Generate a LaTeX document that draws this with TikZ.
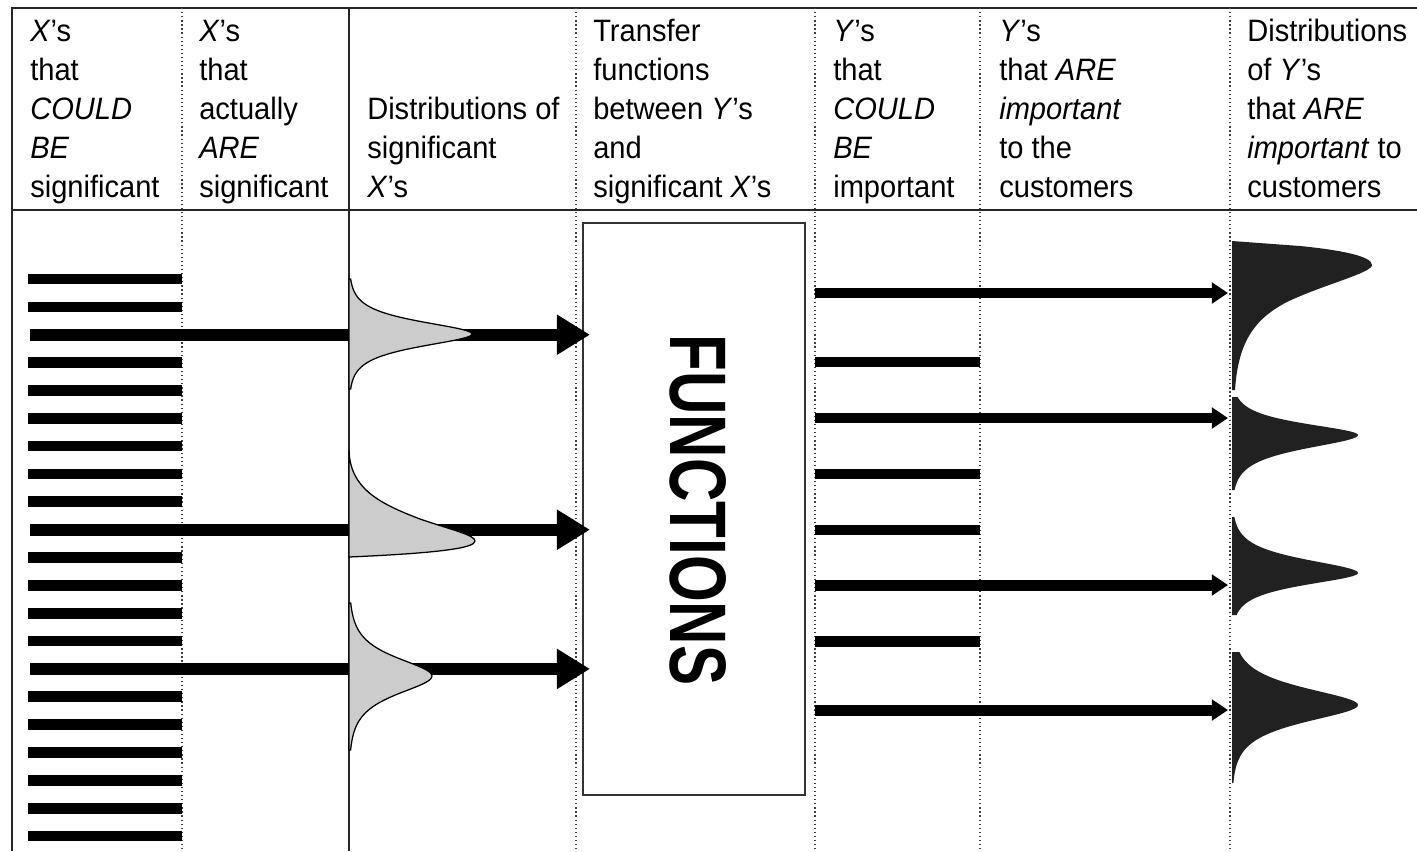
\documentclass[tikz,border=0pt]{standalone}
\usepackage{fontspec}
\setmainfont{Liberation Sans}[FakeStretch=0.94]
\newfontfamily\funcfont{Liberation Sans}[FakeStretch=0.75]
\usetikzlibrary{arrows.meta}
\tikzset{
  frameline/.style={line width=1.1pt, black!85},
  sepline/.style={dotted, line width=0.9pt, black!75},
  xbar/.style={line width=7.6pt},
  bigarrow/.style={line width=8.6pt, -{Triangle[length=23.5pt,width=27pt]}},
  ybar/.style={line width=7.8pt},
  yarrow/.style={line width=7.8pt, -{Triangle[length=11.5pt,width=14.5pt]}},
  graydist/.style={fill=black!20, draw=black, line width=0.9pt},
  blackdist/.style={fill=black!87, draw=none},
  hdr/.style={anchor=north west, inner sep=0pt, align=left, font=\fontsize{22}{27.7}\selectfont},
  fbox/.style={draw=black!80, line width=0.9pt, minimum width=222*0.025cm, minimum height=572*0.025cm, inner sep=0pt}
}
\begin{document}
\begin{tikzpicture}[x=0.025cm, y=-0.025cm]
\useasboundingbox (0,0) rectangle (1417,851);
% frame
\draw[frameline] (12,851) -- (12,8) -- (1417,8);
\draw[frameline] (12,210) -- (1417,210);
\draw[frameline] (349,8) -- (349,851);
\foreach \xx in {182,576,815,980,1230}
  \draw[sepline] (\xx,8) -- (\xx,851);
% headers
\node[hdr] (h1) at (30,14) {\strut\textit{X}’s\\that\\\textit{COULD}\\\textit{BE}\\significant};
\node[hdr] (h2) at (199,14) {\strut\textit{X}’s\\that\\actually\\\textit{ARE}\\significant};
\node[hdr] (h3) at (367,92) {\strut Distributions of\\significant\\\textit{X}’s};
\node[hdr] (h4) at (593,14) {\strut Transfer\\functions\\between \textit{Y}’s\\and\\significant \textit{X}’s};
\node[hdr] (h5) at (833,14) {\strut\textit{Y}’s\\that\\\textit{COULD}\\\textit{BE}\\important};
\node[hdr] (h6) at (999,14) {\strut\textit{Y}’s\\that \textit{ARE}\\\textit{important}\\to the\\customers};
\node[hdr] (h7) at (1247,14) {\strut Distributions\\of \textit{Y}’s\\that \textit{ARE}\\\textit{important} to\\customers};
% functions box
\node[fbox] (fn) at (694,509) {};
\node[rotate=-90, inner sep=0pt, font=\funcfont\bfseries\fontsize{57}{60}\selectfont] (fnlabel) at (698,510) {FUNCTIONS};
% left bars
\foreach \i in {0,1,3,4,5,6,7,8,10,11,12,13,15,16,17,18,19,20}
  \draw[xbar] (28,279+27.85*\i) -- (182,279+27.85*\i);
% significant x arrows
\foreach \yy [count=\k] in {334.7,529.7,668.9} {
  \coordinate (xs\k) at (30,\yy);
  \coordinate (xe\k) at (590,\yy);
  \draw[bigarrow] (xs\k) -- (xe\k);
}
% gray distributions
\filldraw[graydist] (349,279) -- plot[domain=-55:55, samples=90, variable=\t] ({349+123/cosh(\t/11)}, {334+\t}) -- (349,389) -- cycle;
\filldraw[graydist] (349,450) .. controls (350,488) and (378,503) .. (420,519)
  .. controls (452,530) and (475,535) .. (475,541)
  .. controls (475,548) and (440,553) .. (349,557) -- cycle;
\filldraw[graydist] (349,603) -- plot[domain=-73:74, samples=90, variable=\t] ({349+83/cosh(\t/16)}, {676+\t}) -- (349,750) -- cycle;
% Y bars
\foreach \yy in {362,474,530,641}
  \draw[ybar] (815,\yy) -- (980,\yy);
\foreach \yy [count=\k] in {293,418,585,710} {
  \coordinate (ys\k) at (815,\yy);
  \coordinate (ye\k) at (1228,\yy);
  \draw[yarrow] (ys\k) -- (ye\k);
}
% black distributions
\fill[blackdist] (1232,241) -- (1300,246) .. controls (1340,250) and (1372,256) .. (1372,265)
  .. controls (1372,273) and (1322,285) .. (1287,302)
  .. controls (1252,320) and (1238,345) .. (1235,390) -- (1232,390) -- cycle;
\fill[blackdist] (1232,397) -- plot[domain=-38:0, samples=40, variable=\t] ({1232+126/cosh(\t/10)}, {435+\t})
  -- plot[domain=0:55, samples=50, variable=\t] ({1232+126/cosh(\t/12)}, {435+\t}) -- (1232,490) -- cycle;
\fill[blackdist] (1232,517) -- plot[domain=-56:0, samples=50, variable=\t] ({1232+126/cosh(\t/12)}, {573+\t})
  -- plot[domain=0:42, samples=40, variable=\t] ({1232+126/cosh(\t/10.5)}, {573+\t}) -- (1232,615) -- cycle;
\fill[blackdist] (1232,652) -- plot[domain=-53:78, samples=100, variable=\t] ({1232+126/cosh(\t/15)}, {705+\t}) -- (1232,783) -- cycle;
\end{tikzpicture}
\end{document}
